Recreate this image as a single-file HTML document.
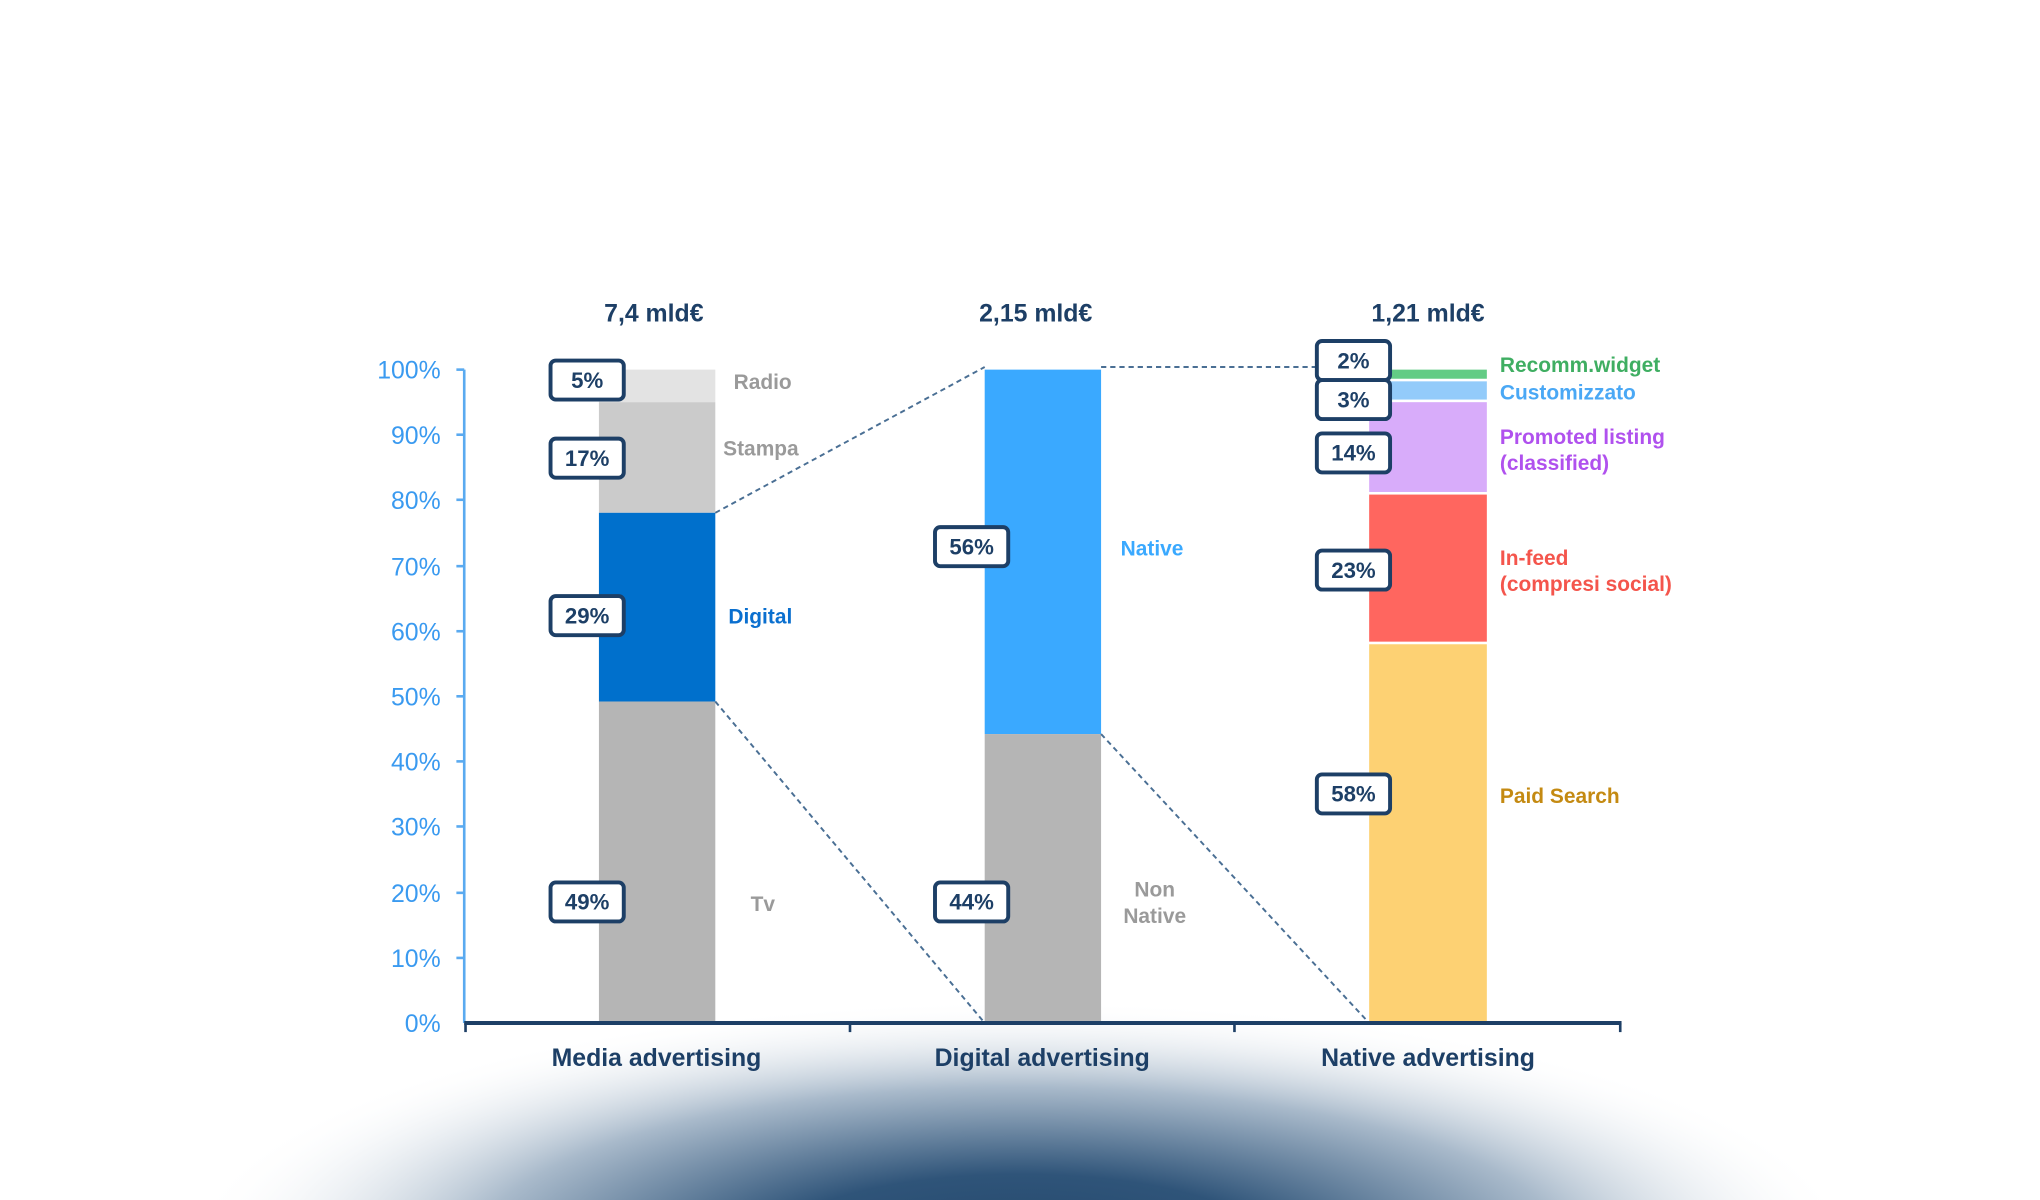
<!DOCTYPE html>
<html><head><meta charset="utf-8"><style>
html,body{margin:0;padding:0;background:#fff;width:2040px;height:1200px;overflow:hidden;}
svg{display:block;}
text{font-family:"Liberation Sans","DejaVu Sans",sans-serif;}
</style></head><body>
<svg width="2040" height="1200" viewBox="0 0 1560 922" preserveAspectRatio="none" xmlns="http://www.w3.org/2000/svg">
<defs>
<radialGradient id="g" cx="780" cy="960" r="640" gradientUnits="userSpaceOnUse" gradientTransform="translate(0,960) scale(1,0.3) translate(0,-960)">
<stop offset="0" stop-color="#23476b"/>
<stop offset="0.3" stop-color="#2f5479"/>
<stop offset="0.65" stop-color="#a9bacb"/>
<stop offset="1" stop-color="#ffffff" stop-opacity="0"/>
</radialGradient>
</defs>
<rect width="1560" height="922" fill="#fff"/>
<ellipse cx="780" cy="960" rx="640" ry="190" fill="url(#g)"/>
<g transform="translate(-3,0)">
<!-- y axis -->
<line x1="358" y1="284" x2="358" y2="786" stroke="#5aaaf0" stroke-width="2"/>
<g stroke="#5aaaf0" stroke-width="2">
<line x1="352" y1="284" x2="358" y2="284"/><line x1="352" y1="334" x2="358" y2="334"/><line x1="352" y1="384" x2="358" y2="384"/><line x1="352" y1="435" x2="358" y2="435"/><line x1="352" y1="485" x2="358" y2="485"/><line x1="352" y1="535" x2="358" y2="535"/><line x1="352" y1="585" x2="358" y2="585"/><line x1="352" y1="635" x2="358" y2="635"/><line x1="352" y1="686" x2="358" y2="686"/><line x1="352" y1="736" x2="358" y2="736"/>
</g>
<g fill="#3a9af0" font-size="19" text-anchor="end">
<text x="340" y="291">100%</text><text x="340" y="341">90%</text><text x="340" y="391">80%</text><text x="340" y="442">70%</text><text x="340" y="492">60%</text><text x="340" y="542">50%</text><text x="340" y="592">40%</text><text x="340" y="642">30%</text><text x="340" y="693">20%</text><text x="340" y="743">10%</text><text x="340" y="793">0%</text>
</g>

<rect x="461" y="284" width="89" height="25" fill="#e3e3e3"/>
<rect x="461" y="309" width="89" height="85" fill="#cbcbcb"/>
<rect x="461" y="394" width="89" height="145" fill="#0070cc"/>
<rect x="461" y="539" width="89" height="247" fill="#b5b5b5"/>
<rect x="756" y="284" width="89" height="280" fill="#3aa9ff"/>
<rect x="756" y="564" width="89" height="222" fill="#b5b5b5"/>
<rect x="1050" y="284" width="90" height="7" fill="#63cc85"/>
<rect x="1050" y="293" width="90" height="14" fill="#93cbfa"/>
<rect x="1050" y="309" width="90" height="69" fill="#d8acfa"/>
<rect x="1050" y="380" width="90" height="113" fill="#ff665f"/>
<rect x="1050" y="495" width="90" height="291" fill="#fdd173"/>

<g stroke="#4a6f94" stroke-width="1.5" stroke-dasharray="4,3" fill="none">
<line x1="550" y1="394" x2="756" y2="282"/>
<line x1="550" y1="539" x2="756" y2="786"/>
<line x1="845" y1="282" x2="1010" y2="282"/>
<line x1="845" y1="564" x2="1050" y2="786"/>
</g>

<line x1="358" y1="786" x2="1243" y2="786" stroke="#1d3f66" stroke-width="3"/>
<g stroke="#1d3f66" stroke-width="2"><line x1="359" y1="786" x2="359" y2="793"/><line x1="653" y1="786" x2="653" y2="793"/><line x1="947" y1="786" x2="947" y2="793"/><line x1="1242" y1="786" x2="1242" y2="793"/></g>

<g fill="#1d3f66" font-size="19" font-weight="bold" text-anchor="middle">
<text x="503" y="247">7,4 mld€</text><text x="795" y="247">2,15 mld€</text><text x="1095" y="247">1,21 mld€</text>
<text x="505" y="819">Media advertising</text><text x="800" y="819">Digital advertising</text><text x="1095" y="819">Native advertising</text>
</g>

<g fill="#fff" stroke="#1d3f66" stroke-width="3">
<rect x="424" y="277" width="56" height="30" rx="4"/>
<rect x="424" y="337" width="56" height="30" rx="4"/>
<rect x="424" y="458" width="56" height="30" rx="4"/>
<rect x="424" y="678" width="56" height="30" rx="4"/>
<rect x="718" y="405" width="56" height="30" rx="4"/>
<rect x="718" y="678" width="56" height="30" rx="4"/>
<rect x="1010" y="262" width="56" height="30" rx="4"/>
<rect x="1010" y="292" width="56" height="30" rx="4"/>
<rect x="1010" y="333" width="56" height="30" rx="4"/>
<rect x="1010" y="423" width="56" height="30" rx="4"/>
<rect x="1010" y="595" width="56" height="30" rx="4"/>
</g>
<g fill="#1d3f66" font-size="17" font-weight="bold" text-anchor="middle">
<text x="452" y="298">5%</text><text x="452" y="358">17%</text><text x="452" y="479">29%</text><text x="452" y="699">49%</text>
<text x="746" y="426">56%</text><text x="746" y="699">44%</text>
<text x="1038" y="283">2%</text><text x="1038" y="313">3%</text><text x="1038" y="354">14%</text><text x="1038" y="444">23%</text><text x="1038" y="616">58%</text>
</g>

<g font-size="16" font-weight="bold">
<text x="564" y="299" fill="#9a9a9a">Radio</text>
<text x="556" y="350" fill="#9a9a9a">Stampa</text>
<text x="560" y="479" fill="#0a6fcf">Digital</text>
<text x="577" y="700" fill="#9a9a9a">Tv</text>
<text x="860" y="427" fill="#3aa9ff">Native</text>
<text x="886" y="689" fill="#9a9a9a" text-anchor="middle">Non</text>
<text x="886" y="709" fill="#9a9a9a" text-anchor="middle">Native</text>
<text x="1150" y="286" fill="#3fae62">Recomm.widget</text>
<text x="1150" y="307" fill="#4aa8f5">Customizzato</text>
<text x="1150" y="341" fill="#b051ee">Promoted listing</text>
<text x="1150" y="361" fill="#b051ee">(classified)</text>
<text x="1150" y="434" fill="#f4554c">In-feed</text>
<text x="1150" y="454" fill="#f4554c">(compresi social)</text>
<text x="1150" y="617" fill="#c48a12">Paid Search</text>
</g>
</g>
</svg>
</body></html>
